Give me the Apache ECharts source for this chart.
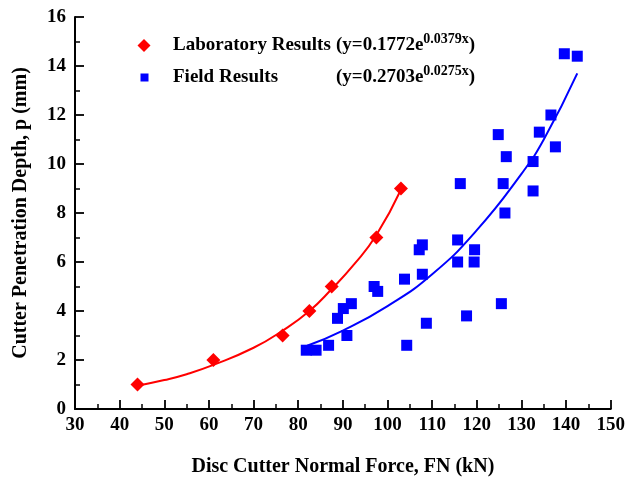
<!DOCTYPE html>
<html><head><meta charset="utf-8">
<script src="https://cdn.jsdelivr.net/npm/echarts@6/dist/echarts.min.js"></script>
<style>html,body{margin:0;padding:0;background:#fff}#c{width:628px;height:482px}</style>
</head><body><div id="c"></div>
<script>
// Laboratory data (FN kN, p mm)
const labX = [44, 61, 76.5, 82.5, 87.5, 97.5, 103];
const labY = [1, 2, 3, 4, 5, 7, 9];
// Field data
const fieldX = [81.8, 84.0, 86.8, 90.9, 88.8, 90.1, 91.9, 97.0, 97.8, 103.8, 104.3, 108.7, 107.8, 107.1, 107.8, 115.7, 119.5, 115.7, 119.4, 117.7, 125.5, 116.3, 125.9, 126.3, 126.6, 132.6, 132.6, 124.8, 134.0, 136.6, 137.6, 139.6, 142.5];
const fieldY = [2.4, 2.4, 2.6, 3.0, 3.7, 4.1, 4.3, 5.0, 4.8, 5.3, 2.6, 3.5, 5.5, 6.5, 6.7, 6.9, 6.5, 6.0, 6.0, 3.8, 4.3, 9.2, 9.2, 8.0, 10.3, 10.1, 8.9, 11.2, 11.3, 12.0, 10.7, 14.5, 14.4];
// Trend curves
const labFitX = [44, 50, 55, 61, 70, 76.5, 82.5, 87.5, 92.5, 97.5, 103];
const labFitY = [0.95, 1.18, 1.42, 1.8, 2.5, 3.2, 4.0, 4.9, 5.9, 7.1, 8.95];
const fieldFitX = [82, 90, 100, 110, 120, 130, 135, 142.5];
const fieldFitY = [2.58, 3.2, 4.2, 5.5, 7.3, 9.6, 11.0, 13.7];
const xTicks = [30, 150, 10];
const yTicks = [0, 16, 2];
const labName = 'Laboratory Results';
const fieldName = 'Field Results';
const labEq = ['(y=0.1772e', '0.0379x', ')'];
const fieldEq = ['(y=0.2703e', '0.0275x', ')'];

const zip = (a, b) => a.map((v, i) => [v, b[i]]);
const FONT = '"Liberation Serif","Times New Roman",serif';
const chart = echarts.init(document.getElementById('c'), null, {renderer: 'canvas'});
const labelStyle = {color: '#000', fontFamily: FONT, fontWeight: 'bold', fontSize: 19};
const axisCommon = {
  axisLine: {show: true, onZero: false, lineStyle: {color: '#000', width: 2}},
  axisTick: {show: true, inside: true, length: 9, lineStyle: {color: '#000', width: 1.8}},
  minorTick: {show: true, splitNumber: 2, length: 5, lineStyle: {color: '#000', width: 1.5}},
  splitLine: {show: false},
  nameTextStyle: {color: '#000', fontFamily: FONT, fontWeight: 'bold', fontSize: 20}
};
function legendFor(name, eq, icon, color, size, left, top, pad) {
  return {
    orient: 'vertical', left: left, top: top, itemWidth: size, itemHeight: size,
    data: [{name: name, icon: icon, itemStyle: {color: color}}],
    formatter: function (n) {
      return '{n|' + n + '}{e|' + eq[0] + '}{s|' + eq[1] + '}{e|' + eq[2] + '}';
    },
    textStyle: {
      color: '#000', fontFamily: FONT, fontWeight: 'bold', fontSize: 19,
      rich: {
        n: {width: 163, padding: [0, 0, 0, pad], fontFamily: FONT, fontWeight: 'bold', fontSize: 19, color: '#000'},
        e: {fontFamily: FONT, fontWeight: 'bold', fontSize: 19, color: '#000'},
        s: {fontFamily: FONT, fontWeight: 'bold', fontSize: 14, color: '#000', padding: [0, 0, 13, 0]}
      }
    }
  };
}
chart.setOption({
  animation: false,
  grid: {left: 75, right: 16, top: 17, bottom: 72, containLabel: false},
  xAxis: Object.assign({}, axisCommon, {
    type: 'value', min: xTicks[0], max: xTicks[1], interval: xTicks[2],
    name: 'Disc Cutter Normal Force, FN (kN)', nameLocation: 'middle', nameGap: 48,
    axisLabel: Object.assign({}, labelStyle, {margin: 7})
  }),
  yAxis: Object.assign({}, axisCommon, {
    type: 'value', min: yTicks[0], max: yTicks[1], interval: yTicks[2],
    name: 'Cutter Penetration Depth, p (mm)', nameLocation: 'middle', nameGap: 44,
    axisLabel: Object.assign({}, labelStyle, {margin: 9})
  }),
  legend: [
    legendFor(labName, labEq, 'diamond', '#ff0000', 13, 132.5, 27, 17.5),
    legendFor(fieldName, fieldEq, 'rect', '#0000ff', 8, 135.5, 59, 19.5)
  ],
  series: [
    {name: labName + ' fit', type: 'line', data: zip(labFitX, labFitY), smooth: true, showSymbol: false,
     lineStyle: {color: '#ff0000', width: 2}, z: 2, silent: true},
    {name: fieldName + ' fit', type: 'line', data: zip(fieldFitX, fieldFitY), smooth: true, showSymbol: false,
     lineStyle: {color: '#0000ff', width: 2}, z: 2, silent: true},
    {name: labName, type: 'scatter', data: zip(labX, labY), symbol: 'diamond', symbolSize: 14,
     itemStyle: {color: '#ff0000', opacity: 1}, z: 3},
    {name: fieldName, type: 'scatter', data: zip(fieldX, fieldY), symbol: 'rect', symbolSize: 11,
     itemStyle: {color: '#0000ff', opacity: 1}, z: 3}
  ]
});
</script></body></html>
